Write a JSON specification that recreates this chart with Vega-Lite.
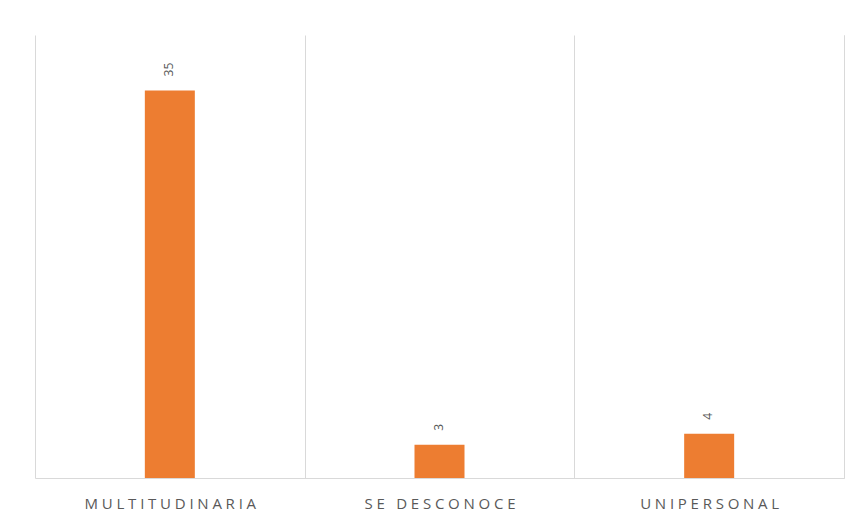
{
  "$schema": "https://vega.github.io/schema/vega-lite/v6.json",
  "autosize": "none",
  "width": 809,
  "height": 443,
  "padding": {"left": 35, "top": 35, "right": 16, "bottom": 47},
  "background": "white",
  "config": {"view": {"stroke": null}, "font": "Open Sans"},
  "data": {"values": [
    {"tipo": "MULTITUDINARIA", "valor": 35},
    {"tipo": "SE DESCONOCE", "valor": 3},
    {"tipo": "UNIPERSONAL", "valor": 4}
  ]},
  "encoding": {
    "x": {"field": "tipo", "type": "nominal", "sort": null,
      "scale": {"paddingInner": 0, "paddingOuter": 0},
      "axis": {"title": null, "labelAngle": 0, "grid": true, "tickBand": "extent", "gridColor": "#d9d9d9", "gridWidth": 1,
        "domainColor": "#d9d9d9", "domainWidth": 1, "ticks": false, "labelPadding": 18, "labelFontSize": 15, "labelColor": "#595959", "labelLimit": 0,
        "labelExpr": "join(split(datum.label, ''), '\u2005')"}},
    "y": {"field": "valor", "type": "quantitative", "scale": {"domain": [0, 40]},
      "axis": {"orient": "right", "title": null, "labels": false, "ticks": false, "grid": false, "domainColor": "#d9d9d9", "domainWidth": 1}}
  },
  "layer": [
    {"mark": {"type": "bar", "color": "#ED7D31", "width": 50}},
    {"mark": {"type": "text", "angle": -90, "align": "left", "baseline": "middle", "dx": 14, "dy": -1, "fontSize": 12, "color": "#595959"},
      "encoding": {"text": {"field": "valor", "type": "quantitative"}}}
  ]
}
